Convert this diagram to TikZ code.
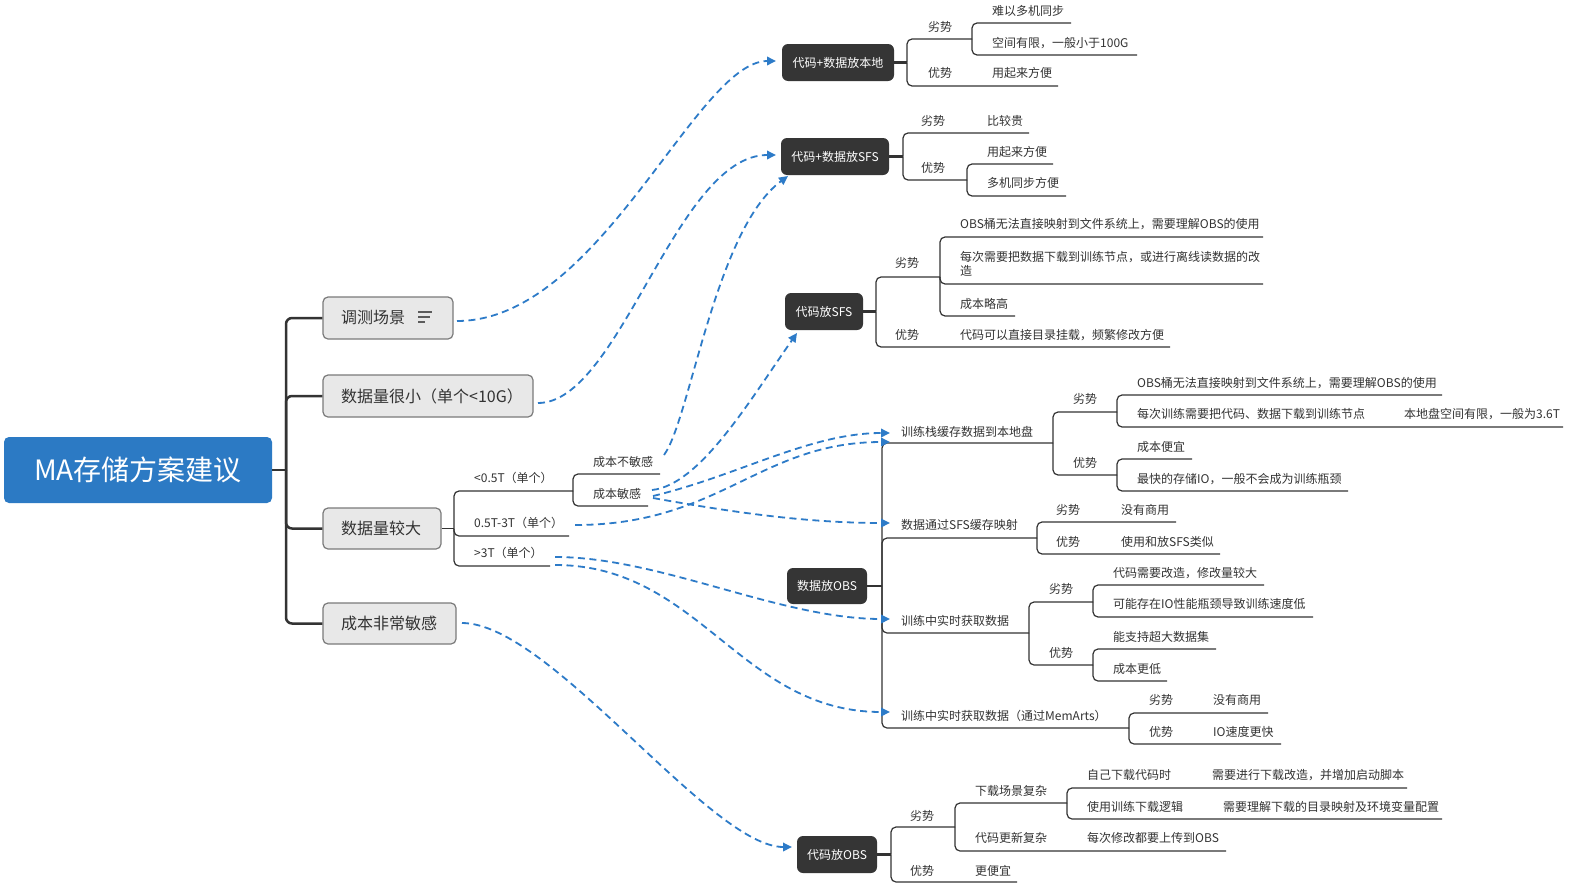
\documentclass[tikz,border=0pt]{standalone}
\usepackage{fontspec}
\setmainfont{Noto Sans CJK SC}
\usetikzlibrary{arrows.meta}
\definecolor{txt}{HTML}{333333}
\definecolor{ln}{HTML}{333333}
\definecolor{dk}{HTML}{353535}
\definecolor{rootb}{RGB}{44,122,196}
\definecolor{blu}{RGB}{45,123,200}
\definecolor{gfill}{HTML}{E8E8E8}
\definecolor{gline}{HTML}{7A7A7A}
\begin{document}
\begin{tikzpicture}[x=1pt,y=-1pt,
  lbl/.style={font=\fontsize{12}{14}\selectfont, text=txt, inner sep=0pt, anchor=west},
  lblc/.style={lbl, anchor=center},
  ul/.style={draw=ln, line width=1.2pt, rounded corners=5pt},
  stem/.style={draw=ln, line width=2.2pt},
  rstem/.style={draw=ln, line width=2.5pt, rounded corners=6pt},
  dbox/.style={fill=dk, rounded corners=6pt, text=white, font=\fontsize{12}{14}\selectfont, inner sep=0pt},
  gbox/.style={fill=gfill, draw=gline, line width=1.2pt, rounded corners=5pt, inner sep=0pt},
  lvl/.style={font=\fontsize{16}{19}\selectfont, text=txt, inner sep=0pt, anchor=west},
  rootbox/.style={fill=rootb, rounded corners=5pt, text=white, font=\fontsize{28}{33}\selectfont, inner sep=0pt},
  link/.style={draw=blu, line width=1.8pt, dash pattern=on 7pt off 4.5pt, -{Triangle[length=9pt,width=8.5pt]}},
  icon/.style={draw=ln!80!white, line width=1.5pt}
]
\useasboundingbox (0,0) rectangle (1573,886);
\fill[white] (0,0) rectangle (1573,886);

% ---------- root and level 1 ----------
\node[rootbox, minimum width=268pt, minimum height=66pt] (root) at (138,470) {MA存储方案建议};
\node[gbox, minimum width=130pt, minimum height=42pt] (b1) at (388,318) {};
\node[gbox, minimum width=210pt, minimum height=42pt] (b2) at (428,396) {};
\node[gbox, minimum width=118pt, minimum height=41pt] (b3) at (382,528.5) {};
\node[gbox, minimum width=133pt, minimum height=41pt] (b4) at (389.5,623.5) {};
\node[lvl] (t1) at (341,318) {调测场景};
\node[lvl] (t2) at (341,396) {数据量很小（单个<10G）};
\node[lvl] (t3) at (341,528.5) {数据量较大};
\node[lvl] (t4) at (341,623.5) {成本非常敏感};
\draw[icon] (418,312) -- (432,312);
\draw[icon] (418,317) -- (430,317);
\draw[icon] (418,322) -- (425,322);

\coordinate (rj) at (286,470);
\draw[rstem] (root.east) -- (rj);
\draw[rstem] (rj) |- (b1.west);
\draw[rstem] (rj) |- (b2.west);
\draw[rstem] (rj) |- (b3.west);
\draw[rstem] (rj) |- (b4.west);

% ---------- 数据量较大 subtree ----------
\coordinate (j3) at (454,528.5);
\coordinate (j31) at (573,491);
\draw[ul] (b3.east) -- (j3);
\draw[ul] (j3) |- (j31);
\draw[ul] (j3) |- (569,536);
\draw[ul] (j3) |- (550,566);
\draw[ul] (j31) |- (660,474);
\draw[ul] (j31) |- (648,506);
\node[lbl] (c1) at (474,478) {<0.5T（单个）};
\node[lbl] (c2) at (474,523) {0.5T-3T（单个）};
\node[lbl] (c3) at (474,553) {>3T（单个）};
\node[lbl] (c11) at (593,462) {成本不敏感};
\node[lbl] (c12) at (593,494) {成本敏感};

% ---------- A: 代码+数据放本地 ----------
\node[dbox, minimum width=112pt, minimum height=37pt] (A) at (838,62.5) {代码+数据放本地};
\coordinate (ja) at (907,62.5);
\coordinate (jal) at (972,39);
\draw[stem] (A.east) -- (ja);
\draw[ul] (ja) |- (jal);
\draw[ul] (ja) |- (1058,86);
\draw[ul] (jal) |- (1071,23);
\draw[ul] (jal) |- (1137,55);
\node[lblc] (a0) at (940,27) {劣势};
\node[lbl] (a1) at (992,11) {难以多机同步};
\node[lbl] (a2) at (992,43) {空间有限，一般小于100G};
\node[lblc] (a3) at (940,73) {优势};
\node[lbl] (a4) at (992,73) {用起来方便};

% ---------- B: 代码+数据放SFS ----------
\node[dbox, minimum width=108pt, minimum height=37pt] (B) at (835,156.5) {代码+数据放SFS};
\coordinate (jb) at (903,156.5);
\coordinate (jbu) at (967,180);
\draw[stem] (B.east) -- (jb);
\draw[ul] (jb) |- (1029,133);
\draw[ul] (jb) |- (jbu);
\draw[ul] (jbu) |- (1053,164);
\draw[ul] (jbu) |- (1066,196);
\node[lblc] (b0) at (933,121) {劣势};
\node[lbl] (bb1) at (987,121) {比较贵};
\node[lblc] (bb2) at (933,168) {优势};
\node[lbl] (bb3) at (987,152) {用起来方便};
\node[lbl] (bb4) at (987,183) {多机同步方便};

% ---------- C: 代码放SFS ----------
\node[dbox, minimum width=78pt, minimum height=37pt] (C) at (824,311.5) {代码放SFS};
\coordinate (jc) at (876,311.5);
\coordinate (jcl) at (940,277);
\draw[stem] (C.east) -- (jc);
\draw[ul] (jc) |- (jcl);
\draw[ul] (jc) |- (1170,347);
\draw[ul] (jcl) |- (1263,237);
\draw[ul] (jcl) |- (1263,284);
\draw[ul] (jcl) |- (1015,316);
\node[lblc] (cc0) at (907,263) {劣势};
\node[lbl] (cc1) at (960,224) {OBS桶无法直接映射到文件系统上，需要理解OBS的使用};
\node[lbl, align=left] (cc2) at (960,263.5) {每次需要把数据下载到训练节点，或进行离线读数据的改\\造};
\node[lbl] (cc3) at (960,304) {成本略高};
\node[lblc] (cc4) at (907,335) {优势};
\node[lbl] (cc5) at (960,335) {代码可以直接目录挂载，频繁修改方便};

% ---------- D: 数据放OBS ----------
\node[dbox, minimum width=80pt, minimum height=36pt] (D) at (827,586) {数据放OBS};
\coordinate (jd) at (882,586);
\coordinate (jd1) at (1053,443);
\coordinate (jd2) at (1037,538);
\coordinate (jd3) at (1029,633);
\coordinate (jd4) at (1129,728);
\draw[stem] (D.east) -- (jd);
\draw[ul] (jd) |- (jd1);
\draw[ul] (jd) |- (jd2);
\draw[ul] (jd) |- (jd3);
\draw[ul] (jd) |- (jd4);
\node[lbl] (d1) at (901,432) {训练栈缓存数据到本地盘};
\node[lbl] (d2) at (901,525) {数据通过SFS缓存映射};
\node[lbl] (d3) at (901,621) {训练中实时获取数据};
\node[lbl] (d4) at (901,716) {训练中实时获取数据（通过MemArts）};

% d1
\coordinate (jd1l) at (1117,412);
\coordinate (jd1u) at (1117,475);
\draw[ul] (jd1) |- (jd1l);
\draw[ul] (jd1) |- (jd1u);
\draw[ul] (jd1l) |- (1442,395);
\draw[ul] (jd1l) |- (1563,427);
\draw[ul] (jd1u) |- (1192,459);
\draw[ul] (jd1u) |- (1348,491);
\node[lblc] (d10) at (1085,399) {劣势};
\node[lbl] (d11) at (1137,383) {OBS桶无法直接映射到文件系统上，需要理解OBS的使用};
\node[lbl] (d12) at (1137,414) {每次训练需要把代码、数据下载到训练节点};
\node[lbl] (d13) at (1404,414) {本地盘空间有限，一般为3.6T};
\node[lblc] (d14) at (1085,463) {优势};
\node[lbl] (d15) at (1137,447) {成本便宜};
\node[lbl] (d16) at (1137,479) {最快的存储IO，一般不会成为训练瓶颈};

% d2
\draw[ul] (jd2) |- (1176,522);
\draw[ul] (jd2) |- (1220,554);
\node[lblc] (d20) at (1068,510) {劣势};
\node[lbl] (d21) at (1121,510) {没有商用};
\node[lblc] (d22) at (1068,542) {优势};
\node[lbl] (d23) at (1121,542) {使用和放SFS类似};

% d3
\coordinate (jd3l) at (1093,602);
\coordinate (jd3u) at (1093,665);
\draw[ul] (jd3) |- (jd3l);
\draw[ul] (jd3) |- (jd3u);
\draw[ul] (jd3l) |- (1264,585);
\draw[ul] (jd3l) |- (1313,617);
\draw[ul] (jd3u) |- (1216,649);
\draw[ul] (jd3u) |- (1167,681);
\node[lblc] (d30) at (1061,589) {劣势};
\node[lbl] (d31) at (1113,573) {代码需要改造，修改量较大};
\node[lbl] (d32) at (1113,604) {可能存在IO性能瓶颈导致训练速度低};
\node[lblc] (d33) at (1061,653) {优势};
\node[lbl] (d34) at (1113,637) {能支持超大数据集};
\node[lbl] (d35) at (1113,669) {成本更低};

% d4
\draw[ul] (jd4) |- (1268,713);
\draw[ul] (jd4) |- (1281,744);
\node[lblc] (d40) at (1161,700) {劣势};
\node[lbl] (d41) at (1213,700) {没有商用};
\node[lblc] (d42) at (1161,732) {优势};
\node[lbl] (d43) at (1213,732) {IO速度更快};

% ---------- E: 代码放OBS ----------
\node[dbox, minimum width=80pt, minimum height=37pt] (E) at (837,854.5) {代码放OBS};
\coordinate (je) at (891,854.5);
\coordinate (jel) at (955,827);
\coordinate (jell) at (1067,803);
\draw[stem] (E.east) -- (je);
\draw[ul] (je) |- (jel);
\draw[ul] (je) |- (1017,882);
\draw[ul] (jel) |- (jell);
\draw[ul] (jel) |- (1226,851);
\draw[ul] (jell) |- (1407,788);
\draw[ul] (jell) |- (1442,819);
\node[lblc] (e0) at (922,816) {劣势};
\node[lbl] (e1) at (975,791) {下载场景复杂};
\node[lbl] (e2) at (1087,775) {自己下载代码时};
\node[lbl] (e3) at (1212,775) {需要进行下载改造，并增加启动脚本};
\node[lbl] (e4) at (1087,807) {使用训练下载逻辑};
\node[lbl] (e5) at (1223,807) {需要理解下载的目录映射及环境变量配置};
\node[lbl] (e6) at (975,838) {代码更新复杂};
\node[lbl] (e7) at (1087,838) {每次修改都要上传到OBS};
\node[lblc] (e8) at (922,871) {优势};
\node[lbl] (e9) at (975,871) {更便宜};

% ---------- links ----------
\coordinate (s1) at (457,321);  \coordinate (f1) at (776,61);
\coordinate (s2) at (538,403);  \coordinate (f2) at (776,155);
\coordinate (s3) at (664,455);  \coordinate (f3) at (788,176);
\coordinate (s4) at (652,490);  \coordinate (f4) at (797,333);
\coordinate (s5) at (653,496);  \coordinate (f5) at (890,433);
\coordinate (s6) at (575,525);  \coordinate (f6) at (890,442);
\coordinate (s7) at (653,498);  \coordinate (f7) at (890,523);
\coordinate (s8) at (555,557);  \coordinate (f8) at (890,619);
\coordinate (s9) at (555,565);  \coordinate (f9) at (890,712);
\coordinate (s10) at (462,623); \coordinate (f10) at (792,847);
\draw[link] (s1) .. controls (600,321) and (696,61) .. (f1);
\draw[link] (s2) .. controls (620,403) and (676,155) .. (f2);
\draw[link] (s3) .. controls (690,420) and (715,230) .. (f3);
\draw[link] (s4) .. controls (700,485) and (750,400) .. (f4);
\draw[link] (s5) .. controls (740,475) and (810,433) .. (f5);
\draw[link] (s6) .. controls (720,525) and (760,442) .. (f6);
\draw[link] (s7) .. controls (720,510) and (800,523) .. (f7);
\draw[link] (s8) .. controls (660,557) and (780,619) .. (f8);
\draw[link] (s9) .. controls (700,565) and (740,712) .. (f9);
\draw[link] (s10) .. controls (550,623) and (710,847) .. (f10);
\end{tikzpicture}
\end{document}
